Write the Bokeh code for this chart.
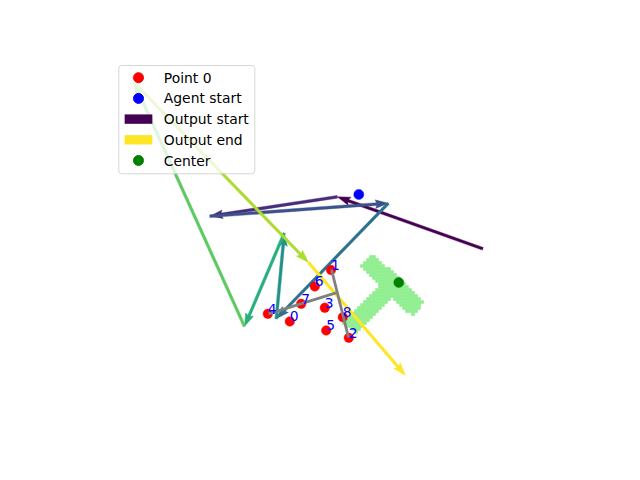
import numpy as np
from bokeh.plotting import figure
from bokeh.models import Range1d, BoxAnnotation
from bokeh.core.properties import value
from bokeh.embed import file_html
from bokeh.resources import INLINE

# ---------------- data (plane coordinates, y grows downward) ----------------
# output trajectory: consecutive points joined by arrows
traj_x = [482.3, 336.8, 209.3, 387.8, 275.8, 283.8, 244.0, 133.5, 308.0, 405.0]
traj_y = [248.3, 196.3, 215.7, 202.7, 318.3, 232.5, 326.0, 82.0, 262.0, 375.0]
arrow_colors = ["#440154", "#472d7b", "#3b528b", "#2c728e", "#21918c",
                "#28ae80", "#5ec962", "#addc30", "#fde725"]

# keypoints
pts_x = [289.3, 330.5, 348.3, 324.3, 267.3, 325.7, 314.3, 300.7, 342.3]
pts_y = [321.0, 269.5, 337.3, 307.3, 313.3, 330.0, 286.0, 303.3, 316.7]
pt_labels = ["0", "1", "2", "3", "4", "5", "6", "7", "8"]

# gray links
link_x0 = [331.0, 268.0]
link_y0 = [269.0, 313.3]
link_x1 = [348.0, 335.5]
link_y1 = [337.0, 292.3]

agent_x, agent_y = [358.3], [194.0]
center_x, center_y = [398.3], [282.0]

# T block (top-edge midpoint, angle, px per unit, crossbar / stem sizes)
T_pos = (398.3, 278.0)
T_angle_deg = 44.3
T_scale = 0.585
T_cross = (120.0, 30.0)
T_stem = (30.0, 90.0)
T_cell = 3.0

legend_labels = ["Point 0", "Agent start", "Output start", "Output end", "Center"]

# ---------------- figure ----------------
p = figure(width=640, height=480, x_range=Range1d(0, 640), y_range=Range1d(480, 0),
           output_backend="svg", toolbar_location=None,
           x_axis_location=None, y_axis_location=None, min_border=0)
p.grid.visible = False
p.outline_line_color = None
p.background_fill_color = "white"
p.border_fill_color = "white"

# T mask cells
ang = np.deg2rad(T_angle_deg)
ux, uy = np.cos(ang), np.sin(ang)
vx, vy = uy, -ux
gx = np.arange(np.floor(320 / T_cell), np.ceil(450 / T_cell)) * T_cell + T_cell / 2
gy = np.arange(np.floor(230 / T_cell), np.ceil(360 / T_cell)) * T_cell + T_cell / 2
GX, GY = np.meshgrid(gx, gy)
dx, dy = GX - T_pos[0], GY - T_pos[1]
a = (dx * ux + dy * uy) / T_scale
b = (dx * vx + dy * vy) / T_scale
in_cross = (np.abs(a) <= T_cross[0] / 2) & (b <= 0) & (b >= -T_cross[1])
in_stem = (np.abs(a) <= T_stem[0] / 2) & (b <= -T_cross[1]) & (b >= -T_cross[1] - T_stem[1])
mask = in_cross | in_stem
p.rect(GX[mask], GY[mask], width=T_cell, height=T_cell,
       fill_color="#90ee90", line_color="#90ee90", line_width=0.6)

# arrows (quiver style polygons)
w, hw, hl, hal = 2.8, 4.3, 13.0, 11.7
xs, ys = [], []
for i in range(len(traj_x) - 1):
    x0, y0, x1, y1 = traj_x[i], traj_y[i], traj_x[i + 1], traj_y[i + 1]
    L = np.hypot(x1 - x0, y1 - y0)
    ex, ey = (x1 - x0) / L, (y1 - y0) / L
    nx, ny = -ey, ex
    s = np.array([0, L - hal, L - hl, L, L - hl, L - hal, 0])
    t = np.array([-w / 2, -w / 2, -hw, 0, hw, w / 2, w / 2])
    xs.append(list(x0 + s * ex + t * nx))
    ys.append(list(y0 + s * ey + t * ny))
p.patches(xs, ys, fill_color=arrow_colors, line_color=arrow_colors, line_width=0.4)

# keypoints
p.scatter(pts_x, pts_y, size=9.5, fill_color="#ff0000", line_color="#ff0000", line_width=0.5)

# gray links
p.segment(link_x0, link_y0, link_x1, link_y1, line_color="#808080", line_width=2.8)

# labels: left / baseline anchored at the point (drawn with middle baseline, lifted)
lab_y = [y - 5.3 for y in pts_y]
p.text(pts_x, lab_y, text=pt_labels, text_color="#0000ff",
       text_font=value("DejaVu Sans"), text_font_size="13.9px",
       text_align="left", text_baseline="middle")

p.scatter(agent_x, agent_y, size=10, fill_color="#0000ff", line_color="#0000ff", line_width=0.5)
p.scatter(center_x, center_y, size=10, fill_color="#008000", line_color="#008000", line_width=0.5)

# ---------------- legend ----------------
box = BoxAnnotation(left=118.3, right=254.3, top=65.0, bottom=173.3,
                    fill_color="white", fill_alpha=0.8,
                    line_color="#cccccc", line_alpha=0.8, line_width=1,
                    border_radius=3)
p.add_layout(box)

row_y = [77.2 + 20.7 * i for i in range(len(legend_labels))]
mx = 138.0
p.scatter([mx], [row_y[0]], size=10, fill_color="#ff0000", line_color="#ff0000", level="overlay")
p.scatter([mx], [row_y[1]], size=10, fill_color="#0000ff", line_color="#0000ff", level="overlay")
p.rect([mx, mx], [row_y[2], row_y[3]], width=27.7, height=9.4,
       fill_color=["#440154", "#fde725"], line_color=None, level="overlay")
p.scatter([mx], [row_y[4]], size=10, fill_color="#008000", line_color="#008000", level="overlay")
p.text([163.3] * len(legend_labels), row_y, text=legend_labels, text_color="#000000",
       text_font=value("DejaVu Sans"), text_font_size="13.9px",
       text_align="left", text_baseline="middle", level="overlay")

open("out.html", "w").write(file_html(p, INLINE))
